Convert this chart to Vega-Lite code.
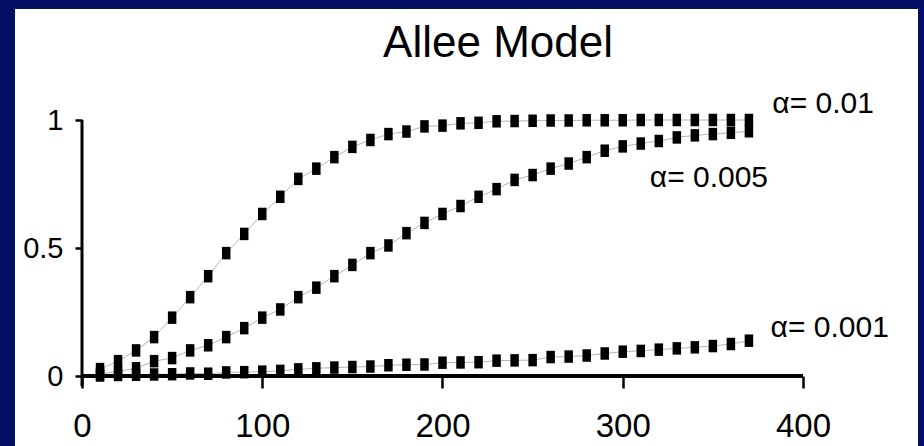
{
  "$schema": "https://vega.github.io/schema/vega-lite/v6.json",
  "width": 903,
  "height": 437,
  "autosize": "none",
  "padding": {"left": 15, "top": 9, "right": 6, "bottom": 0},
  "background": "#020F63",
  "view": {"fill": "white", "stroke": null},
  "datasets": {
    "curves": [
      {"alpha": "0.01", "x": 10, "y": 0.027}, {"alpha": "0.01", "x": 20, "y": 0.058}, {"alpha": "0.01", "x": 30, "y": 0.1},
      {"alpha": "0.01", "x": 40, "y": 0.152}, {"alpha": "0.01", "x": 50, "y": 0.228}, {"alpha": "0.01", "x": 60, "y": 0.308},
      {"alpha": "0.01", "x": 70, "y": 0.39}, {"alpha": "0.01", "x": 80, "y": 0.48}, {"alpha": "0.01", "x": 90, "y": 0.555},
      {"alpha": "0.01", "x": 100, "y": 0.633}, {"alpha": "0.01", "x": 110, "y": 0.7}, {"alpha": "0.01", "x": 120, "y": 0.77},
      {"alpha": "0.01", "x": 130, "y": 0.81}, {"alpha": "0.01", "x": 140, "y": 0.855}, {"alpha": "0.01", "x": 150, "y": 0.895},
      {"alpha": "0.01", "x": 160, "y": 0.922}, {"alpha": "0.01", "x": 170, "y": 0.945}, {"alpha": "0.01", "x": 180, "y": 0.955},
      {"alpha": "0.01", "x": 190, "y": 0.975}, {"alpha": "0.01", "x": 200, "y": 0.978}, {"alpha": "0.01", "x": 210, "y": 0.987},
      {"alpha": "0.01", "x": 220, "y": 0.989}, {"alpha": "0.01", "x": 230, "y": 0.995}, {"alpha": "0.01", "x": 240, "y": 0.996},
      {"alpha": "0.01", "x": 250, "y": 0.997}, {"alpha": "0.01", "x": 260, "y": 0.998}, {"alpha": "0.01", "x": 270, "y": 0.998},
      {"alpha": "0.01", "x": 280, "y": 0.999}, {"alpha": "0.01", "x": 290, "y": 0.999}, {"alpha": "0.01", "x": 300, "y": 0.999},
      {"alpha": "0.01", "x": 310, "y": 1.0}, {"alpha": "0.01", "x": 320, "y": 1.0}, {"alpha": "0.01", "x": 330, "y": 1.0},
      {"alpha": "0.01", "x": 340, "y": 1.0}, {"alpha": "0.01", "x": 350, "y": 1.0}, {"alpha": "0.01", "x": 360, "y": 1.0},
      {"alpha": "0.01", "x": 370, "y": 1.0},
      {"alpha": "0.005", "x": 10, "y": 0.008}, {"alpha": "0.005", "x": 20, "y": 0.018}, {"alpha": "0.005", "x": 30, "y": 0.03},
      {"alpha": "0.005", "x": 40, "y": 0.058}, {"alpha": "0.005", "x": 50, "y": 0.07}, {"alpha": "0.005", "x": 60, "y": 0.1},
      {"alpha": "0.005", "x": 70, "y": 0.12}, {"alpha": "0.005", "x": 80, "y": 0.152}, {"alpha": "0.005", "x": 90, "y": 0.187},
      {"alpha": "0.005", "x": 100, "y": 0.228}, {"alpha": "0.005", "x": 110, "y": 0.26}, {"alpha": "0.005", "x": 120, "y": 0.308},
      {"alpha": "0.005", "x": 130, "y": 0.345}, {"alpha": "0.005", "x": 140, "y": 0.39}, {"alpha": "0.005", "x": 150, "y": 0.434},
      {"alpha": "0.005", "x": 160, "y": 0.48}, {"alpha": "0.005", "x": 170, "y": 0.51}, {"alpha": "0.005", "x": 180, "y": 0.558},
      {"alpha": "0.005", "x": 190, "y": 0.598}, {"alpha": "0.005", "x": 200, "y": 0.633}, {"alpha": "0.005", "x": 210, "y": 0.664},
      {"alpha": "0.005", "x": 220, "y": 0.7}, {"alpha": "0.005", "x": 230, "y": 0.73}, {"alpha": "0.005", "x": 240, "y": 0.766},
      {"alpha": "0.005", "x": 250, "y": 0.785}, {"alpha": "0.005", "x": 260, "y": 0.81}, {"alpha": "0.005", "x": 270, "y": 0.83},
      {"alpha": "0.005", "x": 280, "y": 0.855}, {"alpha": "0.005", "x": 290, "y": 0.88}, {"alpha": "0.005", "x": 300, "y": 0.897},
      {"alpha": "0.005", "x": 310, "y": 0.908}, {"alpha": "0.005", "x": 320, "y": 0.918}, {"alpha": "0.005", "x": 330, "y": 0.932},
      {"alpha": "0.005", "x": 340, "y": 0.94}, {"alpha": "0.005", "x": 350, "y": 0.945}, {"alpha": "0.005", "x": 360, "y": 0.95},
      {"alpha": "0.005", "x": 370, "y": 0.956},
      {"alpha": "0.001", "x": 10, "y": 0.002}, {"alpha": "0.001", "x": 20, "y": 0.004}, {"alpha": "0.001", "x": 30, "y": 0.005},
      {"alpha": "0.001", "x": 40, "y": 0.006}, {"alpha": "0.001", "x": 50, "y": 0.007}, {"alpha": "0.001", "x": 60, "y": 0.01},
      {"alpha": "0.001", "x": 70, "y": 0.009}, {"alpha": "0.001", "x": 80, "y": 0.014}, {"alpha": "0.001", "x": 90, "y": 0.015},
      {"alpha": "0.001", "x": 100, "y": 0.017}, {"alpha": "0.001", "x": 110, "y": 0.02}, {"alpha": "0.001", "x": 120, "y": 0.026},
      {"alpha": "0.001", "x": 130, "y": 0.03}, {"alpha": "0.001", "x": 140, "y": 0.033}, {"alpha": "0.001", "x": 150, "y": 0.035},
      {"alpha": "0.001", "x": 160, "y": 0.037}, {"alpha": "0.001", "x": 170, "y": 0.042}, {"alpha": "0.001", "x": 180, "y": 0.044},
      {"alpha": "0.001", "x": 190, "y": 0.045}, {"alpha": "0.001", "x": 200, "y": 0.052}, {"alpha": "0.001", "x": 210, "y": 0.053},
      {"alpha": "0.001", "x": 220, "y": 0.054}, {"alpha": "0.001", "x": 230, "y": 0.06}, {"alpha": "0.001", "x": 240, "y": 0.061},
      {"alpha": "0.001", "x": 250, "y": 0.062}, {"alpha": "0.001", "x": 260, "y": 0.074}, {"alpha": "0.001", "x": 270, "y": 0.076},
      {"alpha": "0.001", "x": 280, "y": 0.08}, {"alpha": "0.001", "x": 290, "y": 0.088}, {"alpha": "0.001", "x": 300, "y": 0.095},
      {"alpha": "0.001", "x": 310, "y": 0.098}, {"alpha": "0.001", "x": 320, "y": 0.103}, {"alpha": "0.001", "x": 330, "y": 0.108},
      {"alpha": "0.001", "x": 340, "y": 0.112}, {"alpha": "0.001", "x": 350, "y": 0.117}, {"alpha": "0.001", "x": 360, "y": 0.125},
      {"alpha": "0.001", "x": 370, "y": 0.138}
    ],
    "labels": [
      {"label": "α= 0.01", "x": 383, "y": 1.027},
      {"label": "α= 0.005", "x": 315, "y": 0.738},
      {"label": "α= 0.001", "x": 382, "y": 0.152}
    ],
    "one": [{"k": 1}]
  },
  "layer": [
    {
      "data": {"name": "curves"},
      "mark": {"type": "line", "color": "#b5b5b5", "strokeWidth": 1},
      "encoding": {
        "x": {"field": "x", "type": "quantitative", "title": null, "scale": {"domain": [-37.17, 463.8], "nice": false, "zero": false}},
        "y": {"field": "y", "type": "quantitative", "title": null, "scale": {"domain": [-0.2734, 1.4336], "nice": false, "zero": false}},
        "detail": {"field": "alpha", "type": "nominal"}
      }
    },
    {
      "data": {"name": "one"},
      "mark": {"type": "rule", "color": "black", "strokeWidth": 4},
      "encoding": {
        "x": {"datum": 0, "type": "quantitative", "title": null},
        "x2": {"datum": 400},
        "y": {"datum": 0, "type": "quantitative", "title": null}
      }
    },
    {
      "data": {"name": "one"},
      "mark": {"type": "rule", "color": "black", "strokeWidth": 3},
      "encoding": {
        "x": {"datum": 0, "type": "quantitative", "title": null},
        "y": {"datum": -0.04, "type": "quantitative", "title": null},
        "y2": {"datum": 1}
      }
    },
    {
      "data": {"name": "curves"},
      "mark": {
        "type": "point",
        "shape": "M-0.68,-1L0.68,-1L0.68,1L-0.68,1Z",
        "filled": true,
        "color": "black",
        "opacity": 1,
        "size": 156,
        "strokeWidth": 0
      },
      "encoding": {
        "x": {
          "field": "x",
          "type": "quantitative",
          "title": null,
          "scale": {"domain": [-37.17, 463.8], "nice": false, "zero": false},
          "axis": {
            "values": [0, 100, 200, 300, 400],
            "offset": -70,
            "domain": false,
            "grid": false,
            "tickSize": 12,
            "tickWidth": 2.5,
            "tickColor": "black",
            "labelFont": "Liberation Sans",
            "labelFontSize": 33,
            "labelColor": "black",
            "labelPadding": 22,
            "labelFlush": false
          }
        },
        "y": {
          "field": "y",
          "type": "quantitative",
          "title": null,
          "scale": {"domain": [-0.2734, 1.4336], "nice": false, "zero": false},
          "axis": {
            "values": [0, 0.5, 1],
            "format": "~g",
            "offset": -67,
            "domain": false,
            "grid": false,
            "tickSize": 7,
            "tickWidth": 2.5,
            "tickColor": "black",
            "labelFont": "Liberation Sans",
            "labelFontSize": 29,
            "labelColor": "black",
            "labelPadding": 12
          }
        },
        "detail": {"field": "alpha", "type": "nominal"}
      }
    },
    {
      "data": {"name": "labels"},
      "mark": {
        "type": "text",
        "align": "left",
        "baseline": "alphabetic",
        "font": "Liberation Sans",
        "fontSize": 30,
        "color": "black"
      },
      "encoding": {
        "x": {"field": "x", "type": "quantitative", "title": null},
        "y": {"field": "y", "type": "quantitative", "title": null},
        "text": {"field": "label"}
      }
    },
    {
      "data": {"name": "one"},
      "mark": {
        "type": "text",
        "align": "center",
        "baseline": "alphabetic",
        "font": "Liberation Sans",
        "fontSize": 44,
        "color": "black",
        "text": "Allee Model"
      },
      "encoding": {
        "x": {"datum": 230.8, "type": "quantitative", "title": null},
        "y": {"datum": 1.246, "type": "quantitative", "title": null}
      }
    }
  ]
}
